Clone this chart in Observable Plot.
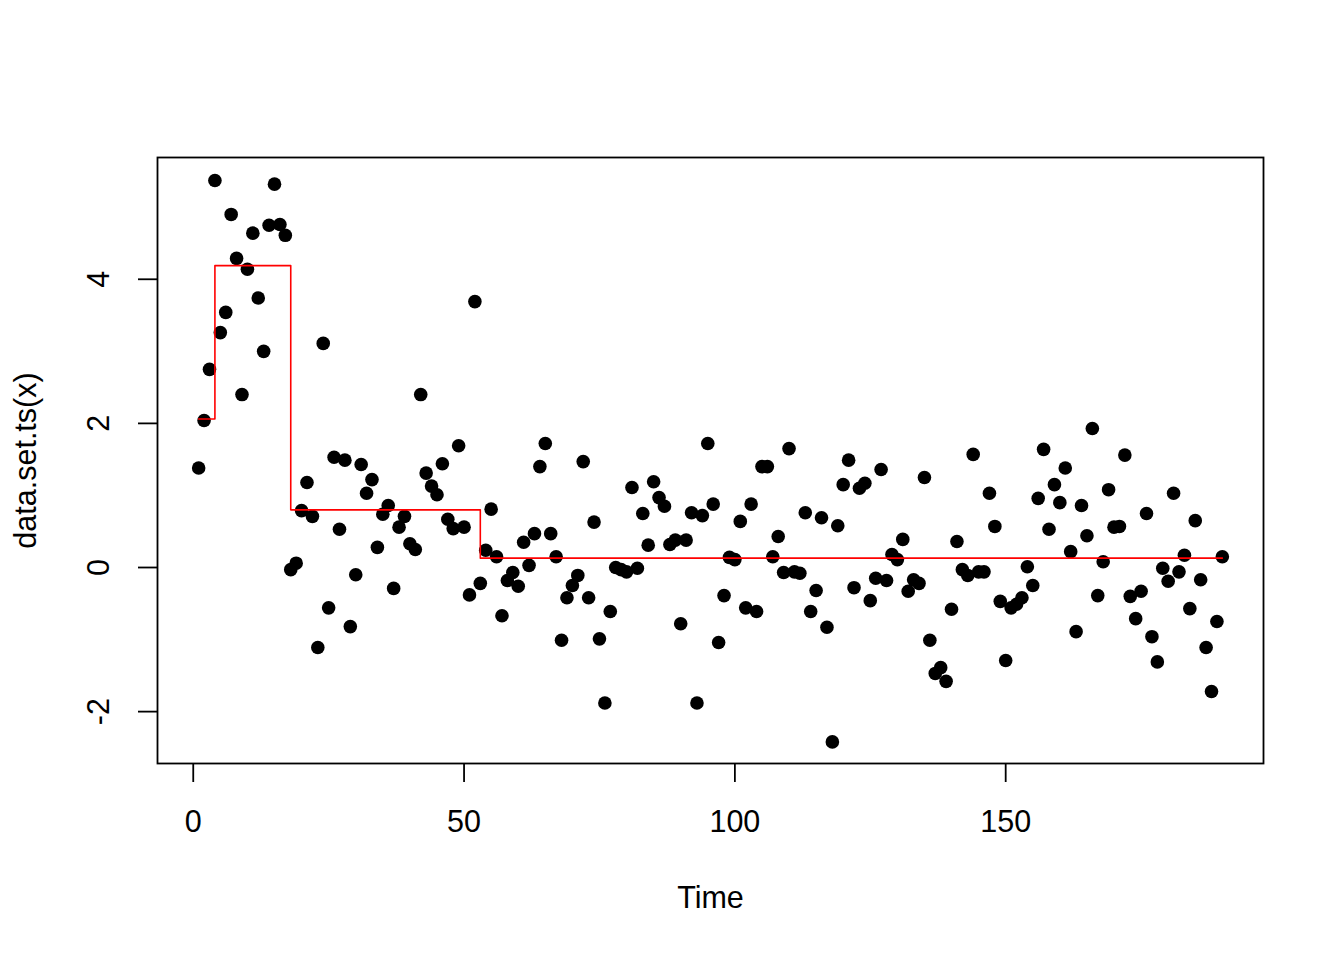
<!DOCTYPE html>
<html>
<head>
<meta charset="utf-8">
<script src="https://cdn.jsdelivr.net/npm/d3@7"></script>
<script src="https://cdn.jsdelivr.net/npm/@observablehq/plot@0.6"></script>
<style>
  html, body { margin: 0; padding: 0; background: #fff; }
  #chart svg { display: block; }
</style>
</head>
<body>
<div id="chart"></div>
<script>
// Observed series, time = 1..190
const values = [
  1.38, 2.04, 2.75, 5.37, 3.26, 3.54, 4.90, 4.29, 2.40, 4.14,
  4.64, 3.74, 3.00, 4.75, 5.32, 4.76, 4.61, -0.03, 0.06, 0.79,
  1.18, 0.71, -1.11, 3.11, -0.56, 1.53, 0.53, 1.49, -0.82, -0.10,
  1.43, 1.03, 1.22, 0.28, 0.74, 0.86, -0.29, 0.56, 0.71, 0.33,
  0.25, 2.40, 1.31, 1.13, 1.01, 1.44, 0.67, 0.54, 1.69, 0.56,
  -0.38, 3.69, -0.22, 0.24, 0.81, 0.15, -0.67, -0.18, -0.07, -0.26,
  0.35, 0.03, 0.47, 1.40, 1.72, 0.47, 0.15, -1.01, -0.42, -0.25,
  -0.11, 1.47, -0.42, 0.63, -0.99, -1.88, -0.61, 0.00, -0.03, -0.06,
  1.11, -0.01, 0.75, 0.31, 1.19, 0.97, 0.85, 0.32, 0.38, -0.78,
  0.38, 0.76, -1.88, 0.72, 1.72, 0.88, -1.04, -0.39, 0.14, 0.11,
  0.64, -0.56, 0.88, -0.61, 1.40, 1.40, 0.15, 0.43, -0.07, 1.65,
  -0.06, -0.08, 0.76, -0.61, -0.32, 0.69, -0.83, -2.42, 0.58, 1.15,
  1.49, -0.28, 1.10, 1.17, -0.46, -0.15, 1.36, -0.18, 0.18, 0.11,
  0.39, -0.33, -0.17, -0.22, 1.25, -1.01, -1.47, -1.39, -1.58, -0.58,
  0.36, -0.03, -0.11, 1.57, -0.06, -0.06, 1.03, 0.57, -0.47, -1.29,
  -0.56, -0.51, -0.42, 0.01, -0.25, 0.96, 1.64, 0.53, 1.15, 0.90,
  1.38, 0.22, -0.89, 0.86, 0.44, 1.93, -0.39, 0.08, 1.08, 0.56,
  0.57, 1.56, -0.40, -0.71, -0.33, 0.75, -0.96, -1.31, -0.01, -0.19,
  1.03, -0.06, 0.17, -0.57, 0.65, -0.17, -1.11, -1.72, -0.75, 0.15
];

// Segment means (change points)
const segStart = [1, 4, 18, 53];
const segEnd   = [4, 18, 53, 190];
const segMean  = [2.06, 4.19, 0.80, 0.13];

// Tick labels
const xTicks = [0, 50, 100, 150];
const yTicks = [-2, 0, 2, 4];
const xTitle = "Time";
const yTitle = "data.set.ts(x)";

const points = values.map((v, i) => ({t: i + 1, v}));
const stepPts = segStart.map((s, i) => ({t: s, v: segMean[i]}))
  .concat([{t: segEnd[segEnd.length - 1], v: segMean[segMean.length - 1]}]);

const FS = 30.5;

const chart = Plot.plot({
  width: 1344,
  height: 960,
  marginLeft: 157,
  marginRight: 81,
  marginTop: 157,
  marginBottom: 197,
  style: {fontFamily: "'Liberation Sans', Arial, Helvetica, sans-serif", fontSize: FS + "px", background: "#fff", color: "#000"},
  x: {domain: [-6.6, 197.6], axis: null},
  y: {domain: [-2.72, 5.69], axis: null},
  marks: [
    Plot.dot(points, {x: "t", y: "v", r: 6.8, fill: "black", stroke: "none"}),
    Plot.line(stepPts, {x: "t", y: "v", curve: "step-after", stroke: "#ff0000", strokeWidth: 1.6}),
    Plot.frame({stroke: "black", strokeWidth: 1.8}),
    Plot.axisX({ticks: xTicks, tickSize: 19, tickPadding: 28, tickFormat: d => String(d), label: null, strokeWidth: 1.8, fontSize: FS}),
    Plot.axisY({ticks: yTicks, tickSize: 19, tickFormat: () => "", label: null, strokeWidth: 1.8}),
    Plot.text(yTicks, {frameAnchor: "left", y: d => d, text: d => String(d), dx: -58, rotate: -90, textAnchor: "middle", lineAnchor: "middle", fontSize: FS, fill: "black"}),
    Plot.text([xTitle], {frameAnchor: "bottom", text: d => d, dy: 135, lineAnchor: "middle", fontSize: FS, fill: "black"}),
    Plot.text([yTitle], {frameAnchor: "left", text: d => d, dx: -131, rotate: -90, textAnchor: "middle", lineAnchor: "middle", fontSize: FS, fill: "black"})
  ]
});
document.getElementById("chart").appendChild(chart);
</script>
</body>
</html>
